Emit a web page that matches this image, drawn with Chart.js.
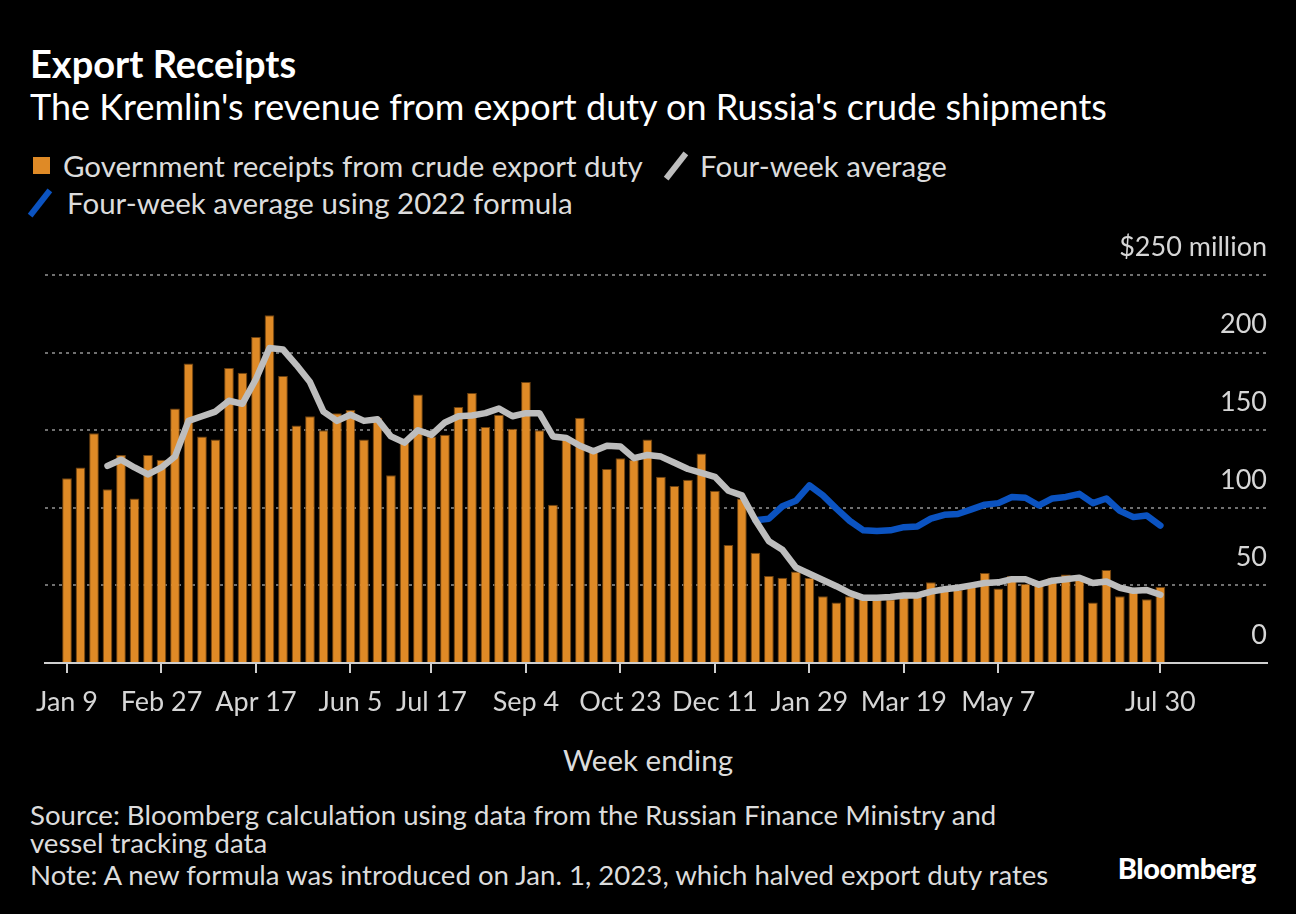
<!DOCTYPE html>
<html>
<head>
<meta charset="utf-8">
<script src="https://cdn.jsdelivr.net/npm/chart.js@4.4.1/dist/chart.umd.min.js"></script>
<style>
  html, body { margin: 0; padding: 0; background: #000; }
  body { width: 1296px; height: 914px; position: relative; overflow: hidden; font-family: Lato, "Noto Sans", sans-serif; color: #dcdcdc; }
  .txt { position: absolute; white-space: nowrap; }
  #title { left: 30px; top: 41px; font-size: 38px; line-height: 44px; font-weight: 700; color: #fff; }
  #subtitle { left: 30px; top: 85px; font-size: 36px; line-height: 42px; color: #fff; }
  .leg { font-size: 29.5px; line-height: 35px; }
  #leg1 { left: 63px; top: 148px; }
  #leg2 { left: 700px; top: 148px; }
  #leg3 { left: 67px; top: 185px; }
  .sq { position: absolute; left: 33px; top: 157px; width: 17px; height: 17px; background: #df8a26; }
  .slash { position: absolute; width: 6px; height: 32px; transform: rotate(38deg); }
  #sl1 { left: 673px; top: 150px; background: #bdbdbd; }
  #sl2 { left: 37px; top: 187px; background: #0b53c1; }
  #xtitle { left: 0; width: 1296px; text-align: center; top: 742px; font-size: 29.5px; line-height: 36px; }
  .foot { font-size: 27.6px; line-height: 32px; left: 30px; }
  #f1 { top: 799px; }
  #f2 { top: 827px; }
  #f3 { top: 859px; }
  #logo { right: 40px; top: 851px; font-size: 29px; line-height: 34px; font-weight: 900; color: #fff; letter-spacing: -0.5px; }
  #chart { position: absolute; left: 0; top: 219px; }
</style>
</head>
<body>
<div class="txt" id="title">Export Receipts</div>
<div class="txt" id="subtitle">The Kremlin's revenue from export duty on Russia's crude shipments</div>
<div class="sq"></div>
<div class="txt leg" id="leg1">Government receipts from crude export duty</div>
<div class="slash" id="sl1"></div>
<div class="txt leg" id="leg2">Four-week average</div>
<div class="slash" id="sl2"></div>
<div class="txt leg" id="leg3">Four-week average using 2022 formula</div>
<canvas id="chart" width="1296" height="504"></canvas>
<div class="txt" id="xtitle">Week ending</div>
<div class="txt foot" id="f1">Source: Bloomberg calculation using data from the Russian Finance Ministry and</div>
<div class="txt foot" id="f2">vessel tracking data</div>
<div class="txt foot" id="f3">Note: A new formula was introduced on Jan. 1, 2023, which halved export duty rates</div>
<div class="txt" id="logo">Bloomberg</div>
<script>
// weekly values, week ending Jan 9 2022 (index 0) to Jul 30 2023 (index 81), $ million
let receipts = [
  119, 126, 148, 112, 134, 106, 134, 131, 164, 193,
  146, 144, 190, 187, 210, 224, 185, 153, 159, 150,
  161, 163, 144, 158, 121, 142, 173, 146, 147, 165,
  174, 152, 160, 151, 181, 150, 102, 144, 158, 136,
  125, 132, 131, 144, 120, 114, 118, 135, 111, 76,
  106, 71, 56, 55, 59, 55, 43, 39, 43, 44,
  42, 41, 43, 43, 52, 47, 47, 49, 58, 48,
  56, 51, 50, 55, 57, 55, 39, 60, 43, 47,
  41, 49
];

let avg4wk = [
  null, null, null, 127, 131, 126, 121.5, 126, 133, 156,
  159, 162, 169, 167, 183, 203, 202, 192, 181, 162,
  156, 160, 156, 157, 146, 142, 150, 147, 155, 159,
  159.5, 161, 164, 159, 161, 161, 146, 145, 140, 136.5,
  140, 139.5, 132, 134, 133, 129, 125, 122.5, 120, 111,
  108, 92, 78.5, 73, 61.5, 57.5, 53.5, 49.5, 45, 42,
  42, 42.5, 43.5, 43.5, 46, 47.5, 48.5, 50, 51.5, 52,
  54, 54, 50.5, 53, 54, 55, 51.5, 52.5, 48.5, 46.5,
  47, 44
];

let avg2022formula = [
  null, null, null, null, null, null, null, null, null, null,
  null, null, null, null, null, null, null, null, null, null,
  null, null, null, null, null, null, null, null, null, null,
  null, null, null, null, null, null, null, null, null, null,
  null, null, null, null, null, null, null, null, null, null,
  null, 92, 93, 101, 104.5, 114.5, 108, 99.5, 91.5, 85.5,
  85, 85.5, 87.5, 88, 93, 95.5, 96, 99, 102, 103,
  107, 106.5, 101.5, 106, 107, 109, 103, 106, 98, 94,
  95, 88.5
];

let tickWeeks = [0, 7, 14, 21, 27, 34, 41, 48, 55, 62, 69, 81];
let tickLabels = ["Jan 9", "Feb 27", "Apr 17", "Jun 5", "Jul 17", "Sep 4", "Oct 23", "Dec 11", "Jan 29", "Mar 19", "May 7", "Jul 30"];
let yTicks = [0, 50, 100, 150, 200, 250];

function toPoints(values) {
    return values.map((v, i) => ({ x: i, y: v }));
}

let ctx = document.getElementById('chart');
let myChart = new Chart(ctx, {
    data: {
        datasets: [
            {
                type: 'line',
                label: 'Four-week average',
                data: toPoints(avg4wk),
                borderColor: '#bdbdbd',
                borderWidth: 6.5,
                pointRadius: 0,
                borderJoinStyle: 'round',
                borderCapStyle: 'round',
                order: 1
            },
            {
                type: 'line',
                label: 'Four-week average using 2022 formula',
                data: toPoints(avg2022formula),
                borderColor: '#0b53c1',
                borderWidth: 6.5,
                pointRadius: 0,
                borderJoinStyle: 'round',
                borderCapStyle: 'round',
                order: 2
            },
            {
                type: 'bar',
                label: 'Government receipts from crude export duty',
                data: toPoints(receipts),
                backgroundColor: '#df8a26',
                borderColor: '#6e4210',
                borderWidth: 1,
                barPercentage: 0.72,
                categoryPercentage: 1,
                order: 3
            }
        ]
    },
    options: {
        responsive: false,
        animation: false,
        layout: { padding: { top: 56, left: 45, right: 29, bottom: 0 } },
        plugins: {
            legend: { display: false },
            tooltip: { enabled: false }
        },
        scales: {
            x: {
                type: 'linear',
                min: -1.63,
                max: 88.9,
                offset: false,
                afterBuildTicks: axis => {
                    axis.ticks = tickWeeks.map(v => ({ value: v }));
                },
                afterFit: axis => {
                    axis.height = 60;
                    axis.paddingLeft = 0;
                    axis.paddingRight = 0;
                },
                grid: { offset: false, drawOnChartArea: false, drawTicks: true, tickLength: 10, color: '#cfcfcf', lineWidth: 2 },
                border: { display: true, color: '#cfcfcf', width: 2 },
                ticks: {
                    autoSkip: false,
                    maxRotation: 0,
                    padding: 13,
                    color: '#d6d6d6',
                    font: { family: 'Lato', size: 27 },
                    callback: v => tickLabels[tickWeeks.indexOf(v)]
                }
            },
            y: {
                position: 'right',
                min: 0,
                max: 250,
                afterBuildTicks: axis => {
                    axis.ticks = yTicks.map(v => ({ value: v }));
                },
                afterFit: axis => {
                    axis.paddingTop = 0;
                    axis.paddingBottom = 0;
                },
                grid: { color: '#707070', lineWidth: 2, drawTicks: false },
                border: { display: false, dash: [3, 4] },
                ticks: {
                    autoSkip: false,
                    mirror: true,
                    padding: 0,
                    color: '#d6d6d6',
                    font: { family: 'Lato', size: 27, lineHeight: '56px' },
                    // label sits above its gridline: second line left empty
                    callback: v => [v === 250 ? '$250 million' : String(v), '']
                }
            }
        }
    }
});
</script>
</body>
</html>
